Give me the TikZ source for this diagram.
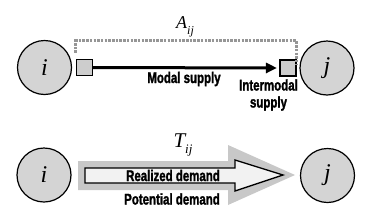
\documentclass[tikz,border=0pt]{standalone}
\usepackage{fontspec}
\newfontface\lab{Liberation Sans Bold}[FakeStretch=0.74,FakeBold=1.5]
\newfontfamily\ser{Liberation Serif}
\usetikzlibrary{arrows.meta}
\definecolor{circfill}{RGB}{212,212,212}
\definecolor{sqfill}{RGB}{205,205,205}
\definecolor{potfill}{RGB}{200,200,200}
\definecolor{realfill}{RGB}{242,242,242}
\definecolor{dashgray}{RGB}{150,150,150}
\tikzset{
  zone/.style={circle, draw=black, line width=1.2pt, fill=circfill, minimum size=54pt, inner sep=0pt, font=\ser\itshape\fontsize{24}{24}\selectfont},
  port/.style={rectangle, draw=black, line width=1.1pt, fill=sqfill, minimum size=16pt, inner sep=0pt},
  lbl/.style={font=\lab\fontsize{15.5}{17}\selectfont, inner sep=0pt, align=center},
  sym/.style={font=\ser\itshape, inner sep=0pt}
}
\begin{document}
\begin{tikzpicture}[x=1pt,y=-1pt]
\useasboundingbox (0,0) rectangle (375,215);
% top row
\node[zone] (ci) at (44.5,67.5) {i};
\node[zone] (cj) at (327,68) {j};
\node[port] (si) at (84.5,67.5) {};
\node[port] (sj) at (288,68) {};
\draw[line width=3pt, -{Triangle[length=11pt,width=10pt]}, shorten >=2.5pt] (si.east) -- (sj.west);
\draw[dashgray, line width=3pt, dash pattern=on 2.5pt off 1.2pt]
  (si.north west) ++(0,-6) -- ++(0,-12) -| ([yshift=-6pt]sj.north east);
\node[sym, font=\ser\itshape\fontsize{18}{18}\selectfont] (aij) at (185,27) {A\raisebox{-0.3em}{\fontsize{12}{12}\selectfont ij}};
\node[lbl] (modal) at (184,79) {Modal supply};
\node[lbl] (inter) at (268.5,95) {Intermodal\\supply};
% bottom row
\node[zone] (bi) at (44,175) {i};
\node[zone] (bj) at (327.5,175.5) {j};
\coordinate (pt) at (295,175);
\fill[potfill] (78,161) -- (228,161) -- (228,145) -- (pt) -- (228,205) -- (228,190) -- (78,190) -- cycle;
\coordinate (rt) at (283,175);
\draw[fill=realfill, line width=1.3pt, line join=miter] (85,168) -- (235,168) -- (235,160) -- (rt) -- (235,191) -- (235,183) -- (85,183) -- cycle;
\node[sym, font=\ser\itshape\fontsize{21}{21}\selectfont] (tij) at (183,145) {T\raisebox{-0.3em}{\fontsize{13}{13}\selectfont ij}};
\node[lbl] (real) at (173,175.5) {Realized demand};
\node[lbl] (pot) at (172,199) {Potential demand};
\end{tikzpicture}
\end{document}
